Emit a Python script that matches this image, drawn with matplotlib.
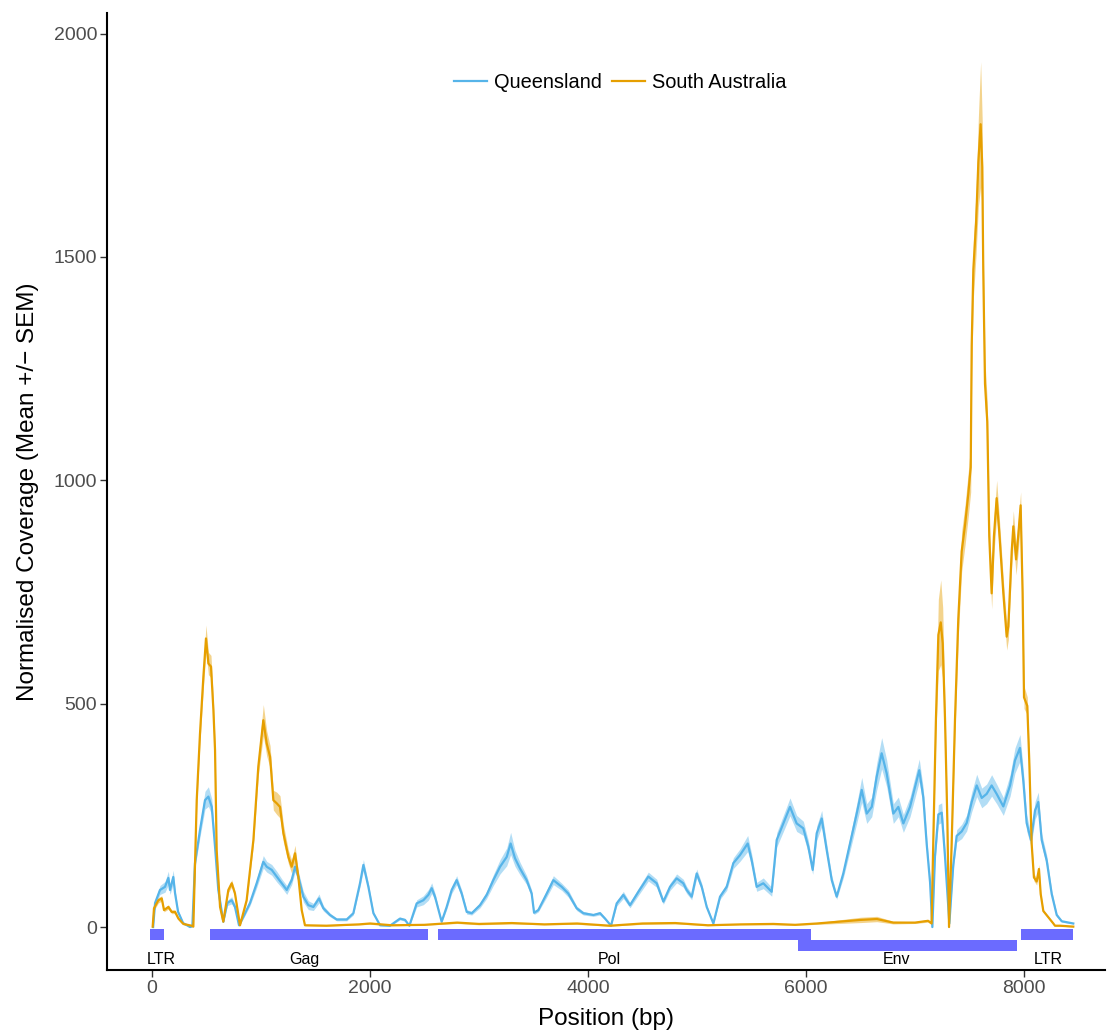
import numpy as np
import matplotlib
matplotlib.use("Agg")
import matplotlib.pyplot as plt
from matplotlib.lines import Line2D

plt.rcParams['font.family'] = ['Liberation Sans', 'DejaVu Sans']

# Queensland: position (bp), mean coverage, SEM
qld_pos = [10, 28, 73, 119, 150, 165, 195, 211, 239, 285,
           349, 370, 394, 440, 486, 517, 548, 578, 608, 654,
           691, 731, 761, 798, 838, 899, 960, 1021, 1052, 1098,
           1144, 1190, 1236, 1281, 1312, 1342, 1388, 1434, 1480, 1532,
           1572, 1633, 1694, 1786, 1847, 1908, 1939, 1985, 2031, 2092,
           2183, 2275, 2321, 2361, 2428, 2489, 2535, 2566, 2596, 2657,
           2703, 2749, 2795, 2841, 2887, 2933, 3009, 3070, 3131, 3193,
           3254, 3290, 3330, 3376, 3437, 3483, 3505, 3544, 3621, 3682,
           3759, 3819, 3896, 3957, 4049, 4110, 4156, 4211, 4263, 4324,
           4385, 4462, 4553, 4630, 4691, 4752, 4813, 4874, 4905, 4951,
           4997, 5043, 5089, 5150, 5211, 5272, 5333, 5394, 5465, 5501,
           5547, 5608, 5685, 5731, 5792, 5853, 5914, 5975, 6021, 6061,
           6098, 6144, 6190, 6236, 6281, 6342, 6404, 6465, 6511, 6557,
           6603, 6648, 6694, 6740, 6801, 6847, 6893, 6954, 7039, 7076,
           7107, 7138, 7159, 7183, 7214, 7245, 7275, 7315, 7351, 7382,
           7428, 7474, 7520, 7566, 7612, 7657, 7703, 7749, 7810, 7872,
           7917, 7963, 7994, 8024, 8064, 8101, 8131, 8162, 8208, 8254,
           8300, 8346, 8452]
qld_mean = [0, 54, 83, 90, 110, 83, 112, 76, 34, 9,
            0, 2, 143, 217, 284, 292, 269, 180, 83, 12,
            54, 60, 45, 4, 23, 54, 98, 146, 135, 128,
            113, 98, 83, 105, 135, 113, 68, 49, 45, 64,
            42, 27, 17, 17, 31, 98, 139, 90, 31, 4,
            3, 19, 16, 3, 53, 60, 72, 87, 68, 12,
            45, 83, 105, 75, 34, 31, 49, 72, 105, 135,
            157, 187, 154, 131, 105, 75, 32, 38, 75, 105,
            90, 75, 42, 31, 27, 31, 19, 3, 53, 72,
            49, 79, 113, 98, 57, 90, 109, 98, 83, 68,
            120, 90, 45, 8, 68, 90, 143, 161, 187, 150,
            90, 98, 79, 195, 232, 269, 232, 221, 180, 128,
            210, 243, 172, 105, 68, 120, 187, 254, 307, 254,
            269, 336, 389, 344, 254, 269, 232, 269, 351, 290,
            186, 100, 0, 158, 252, 256, 158, 8, 139, 204,
            214, 233, 280, 317, 289, 298, 317, 298, 270, 317,
            373, 401, 326, 233, 195, 261, 280, 195, 149, 74,
            27, 13, 8]
qld_sem = [1, 6, 10, 12, 15, 10, 15, 8, 4, 2,
           1, 1, 10, 15, 20, 22, 18, 12, 8, 2,
           6, 8, 6, 2, 4, 6, 10, 14, 12, 12,
           12, 10, 10, 10, 12, 12, 12, 10, 8, 10,
           6, 4, 3, 3, 4, 8, 12, 8, 4, 1,
           1, 3, 3, 1, 8, 10, 12, 12, 8, 2,
           6, 8, 10, 8, 5, 4, 6, 8, 12, 16,
           20, 25, 18, 14, 10, 8, 4, 4, 8, 10,
           8, 8, 5, 4, 3, 4, 3, 1, 6, 8,
           6, 8, 10, 9, 6, 8, 10, 9, 8, 7,
           10, 8, 5, 2, 6, 8, 12, 14, 18, 14,
           10, 12, 10, 16, 18, 20, 18, 16, 14, 10,
           16, 18, 14, 10, 6, 10, 16, 22, 28, 22,
           22, 30, 35, 30, 22, 22, 20, 22, 25, 20,
           14, 8, 1, 12, 22, 22, 12, 2, 10, 14,
           16, 18, 22, 25, 22, 22, 24, 22, 20, 24,
           28, 30, 24, 18, 14, 20, 22, 14, 12, 8,
           4, 2, 1]

# South Australia
sa_pos = [6, 18, 58, 89, 110, 150, 180, 211, 242, 287,
          364, 379, 410, 440, 471, 495, 517, 541, 563, 578,
          593, 624, 654, 700, 731, 761, 807, 868, 930, 975,
          1021, 1052, 1083, 1113, 1144, 1174, 1205, 1251, 1281, 1312,
          1342, 1373, 1403, 1600, 1900, 2000, 2200, 2500, 2800, 3000,
          3300, 3600, 3900, 4200, 4500, 4800, 5100, 5400, 5700, 5900,
          6100, 6300, 6500, 6650, 6800, 7000, 7120, 7152, 7167, 7192,
          7214, 7236, 7254, 7275, 7297, 7312, 7336, 7367, 7397, 7428,
          7459, 7489, 7511, 7520, 7535, 7560, 7581, 7602, 7617, 7626,
          7642, 7663, 7681, 7703, 7724, 7749, 7773, 7810, 7841, 7856,
          7887, 7902, 7927, 7948, 7969, 7987, 8000, 8030, 8048, 8070,
          8091, 8116, 8137, 8153, 8177, 8223, 8269, 8284, 8330, 8452]
sa_mean = [1, 42, 60, 64, 38, 45, 34, 34, 19, 7,
           3, 1, 284, 433, 560, 646, 590, 583, 486, 396,
           172, 45, 12, 83, 98, 75, 4, 60, 195, 359,
           463, 411, 381, 284, 277, 269, 210, 157, 135, 165,
           113, 38, 4, 3, 6, 8, 4, 5, 10, 7,
           9, 6, 8, 3, 8, 9, 4, 6, 7, 5,
           8, 12, 16, 18, 10, 10, 14, 8, 186, 467,
           654, 682, 635, 467, 233, 0, 186, 467, 690, 841,
           900, 970, 1029, 1302, 1472, 1575, 1712, 1797, 1701, 1472,
           1216, 1131, 875, 747, 875, 960, 883, 748, 650, 673,
           841, 897, 823, 879, 944, 748, 514, 495, 373, 186,
           111, 102, 130, 74, 36, 22, 8, 3, 3, 1]
sa_sem = [1, 5, 6, 6, 4, 5, 4, 4, 3, 2,
          1, 1, 15, 20, 25, 30, 25, 25, 20, 18,
          10, 4, 2, 6, 8, 6, 1, 5, 12, 20,
          35, 28, 25, 22, 25, 25, 20, 15, 15, 18,
          10, 4, 1, 1, 1, 2, 1, 1, 2, 2,
          2, 1, 2, 1, 2, 2, 1, 1, 2, 1,
          2, 4, 6, 6, 3, 2, 3, 2, 15, 30,
          80, 95, 80, 30, 15, 1, 12, 30, 40, 45,
          45, 50, 55, 60, 65, 70, 100, 140, 100, 60,
          50, 45, 40, 35, 40, 40, 35, 30, 30, 30,
          35, 35, 35, 35, 30, 30, 25, 20, 15, 10,
          8, 8, 10, 6, 3, 2, 1, 1, 1, 1]

# genome annotation
gene_names = ['LTR', 'Gag', 'Pol', 'Env', 'LTR']
gene_start = [-20, 532, 2621, 5923, 7972]
gene_end = [110, 2529, 6046, 7932, 8447]
gene_row = [0, 0, 0, 1, 0]
label_x = [89, 1394, 4193, 6826, 8225]

blue = '#56B4E9'
orange = '#E69F00'
bar_col = '#6B6BFF'

fig = plt.figure(figsize=(11.09, 10.30), dpi=100)
ax = fig.add_axes([0.0965, 0.0583, 0.8999, 0.9291])

for pos, m, s, c in [(qld_pos, qld_mean, qld_sem, blue),
                     (sa_pos, sa_mean, sa_sem, orange)]:
    pos = np.array(pos)
    m = np.array(m)
    s = np.array(s)
    ax.fill_between(pos, m - s, m + s, color=c, alpha=0.45, lw=0)
    ax.plot(pos, m, color=c, lw=1.6)

for st, en, row in zip(gene_start, gene_end, gene_row):
    y0 = -29 - 25 * row
    ax.barh(y0 + 12.5, en - st, left=st, height=25, color=bar_col, lw=0)

for nm, lx in zip(gene_names, label_x):
    ax.text(lx, -73, nm, ha='center', va='center', fontsize=11.5, color='black')

ax.set_xlim(-413, 8743)
ax.set_ylim(-96, 2046)
ax.set_xticks([0, 2000, 4000, 6000, 8000])
ax.set_yticks([0, 500, 1000, 1500, 2000])
ax.tick_params(length=5, width=1, color='#333333', labelcolor='#4d4d4d',
               labelsize=14, pad=2)
for side in ['top', 'right']:
    ax.spines[side].set_visible(False)
for side in ['left', 'bottom']:
    ax.spines[side].set_linewidth(1.5)

ax.set_xlabel('Position (bp)', fontsize=17.5, labelpad=8)
ax.set_ylabel('Normalised Coverage (Mean +/\u2212 SEM)', fontsize=17.5, labelpad=11)

handles = [Line2D([], [], color=blue, lw=1.6), Line2D([], [], color=orange, lw=1.6)]
ax.legend(handles, ['Queensland', 'South Australia'], ncol=2, loc='center',
          bbox_to_anchor=(0.514, 0.927), frameon=False, fontsize=14.4,
          handlelength=1.65, handletextpad=0.35, columnspacing=0.5)

fig.savefig('out.png', dpi=100)
